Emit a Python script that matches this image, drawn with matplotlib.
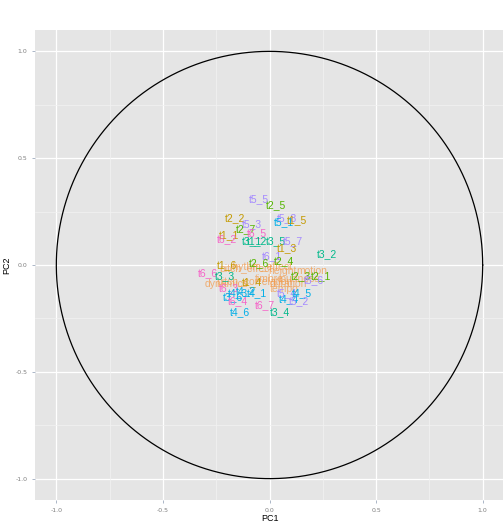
import matplotlib.pyplot as plt
import numpy as np

# variable labels and their PCA loadings
labels = ['t5_5', 't2_5', 't2_2', 't5_8', 't5_1', 't1_5', 't5_3', 't2_7', 't6_5',
          't1_1', 't6_2', 't3_1', 't1_2', 't3_5', 't5_7', 't1_3', 't3_2', 't6_1',
          't1_6', 't2_6', 't2_4', 't6_6', 't3_3', 't2_3', 't2_1', 't5_6', 't1_4',
          't6_3', 't4_3', 't4_2', 't4_1', 't3_6', 't5_4', 't4_5', 't4_4', 't5_2',
          't6_4', 't4_6', 't6_7', 't3_4']
pc1 = [-0.05, 0.03, -0.16, 0.08, 0.07, 0.13, -0.08, -0.11, -0.06,
       -0.19, -0.20, -0.08, -0.06, 0.03, 0.11, 0.08, 0.27, 0.01,
       -0.20, -0.05, 0.07, -0.29, -0.21, 0.15, 0.24, 0.21, -0.08,
       -0.19, -0.15, -0.11, -0.06, -0.17, 0.08, 0.15, 0.09, 0.14,
       -0.15, -0.14, -0.02, 0.05]
pc2 = [0.31, 0.28, 0.22, 0.22, 0.20, 0.21, 0.19, 0.17, 0.15,
       0.14, 0.12, 0.11, 0.11, 0.11, 0.11, 0.08, 0.05, 0.04,
       0.00, 0.01, 0.02, -0.04, -0.05, -0.05, -0.05, -0.07, -0.08,
       -0.11, -0.13, -0.12, -0.13, -0.15, -0.13, -0.13, -0.16, -0.17,
       -0.17, -0.22, -0.19, -0.22]
groups = ['t5', 't2', 't1', 't5', 't4', 't1', 't5', 't2', 't6',
          't1', 't6', 't3', 't3', 't3', 't5', 't1', 't3', 't5',
          't1', 't2', 't2', 't6', 't3', 't2', 't2', 't5', 't1',
          't6', 't4', 't4', 't4', 't4', 't5', 't4', 't4', 't5',
          't6', 't4', 't6', 't3']

# supplementary variables
words = ['pitch_effect', 'rhythm_effect', 'height', 'motion', 'timbre', 'loudness',
         'pitch_correlation', 'duration', 'tempo', 'dynamics']
w_pc1 = [-0.11, -0.04, 0.06, 0.20, 0.00, 0.14, -0.07, 0.09, 0.07, -0.20]
w_pc2 = [-0.02, -0.01, -0.03, -0.03, -0.065, -0.065, -0.08, -0.09, -0.11, -0.09]

palette = {'t1': '#C49A00', 't2': '#53B400', 't3': '#00B88A', 't4': '#00AEE8',
           't5': '#A58AFF', 't6': '#F565C8'}
word_color = '#F29A4A'

fig = plt.figure(figsize=(5.03, 5.23), dpi=100)
ax = fig.add_axes([35 / 503, 23 / 523, 469 / 503, 470 / 523])
ax.set_facecolor('#E5E5E5')

# grid: major white, minor lighter
for v in [-1.0, -0.5, 0.0, 0.5, 1.0]:
    ax.axvline(v, color='white', lw=0.9, zorder=0)
    ax.axhline(v, color='white', lw=0.9, zorder=0)
for v in [-0.75, -0.25, 0.25, 0.75]:
    ax.axvline(v, color='#F2F2F2', lw=0.5, zorder=0)
    ax.axhline(v, color='#F2F2F2', lw=0.5, zorder=0)

theta = np.linspace(0, 2 * np.pi, 400)
ax.plot(np.cos(theta), np.sin(theta), color='black', lw=0.9, zorder=2)

for w, x, y in zip(words, w_pc1, w_pc2):
    ax.text(x, y, w, color=word_color, alpha=0.75, fontsize=7.5,
            family='Liberation Sans', ha='center', va='center', zorder=3)
for lab, x, y, g in zip(labels, pc1, pc2, groups):
    ax.text(x, y, lab, color=palette[g], fontsize=7.5,
            family='Liberation Sans', ha='center', va='center', zorder=4)

ax.set_xlim(-1.1, 1.1)
ax.set_ylim(-1.1, 1.1)
ticks = [-1.0, -0.5, 0.0, 0.5, 1.0]
ax.set_xticks(ticks)
ax.set_yticks(ticks)
ax.set_xticklabels([f'{t:.1f}' for t in ticks])
ax.set_yticklabels([f'{t:.1f}' for t in ticks])
ax.tick_params(colors='#8A9AB0', labelsize=4.5, length=2, width=0.5,
               labelcolor='#7F7F7F')
for s in ax.spines.values():
    s.set_visible(False)
ax.set_xlabel('PC1', fontsize=6.5, family='Liberation Sans', labelpad=1)
ax.set_ylabel('PC2', fontsize=6.5, family='Liberation Sans', labelpad=3)

fig.savefig('out.png', dpi=100, facecolor='white')
